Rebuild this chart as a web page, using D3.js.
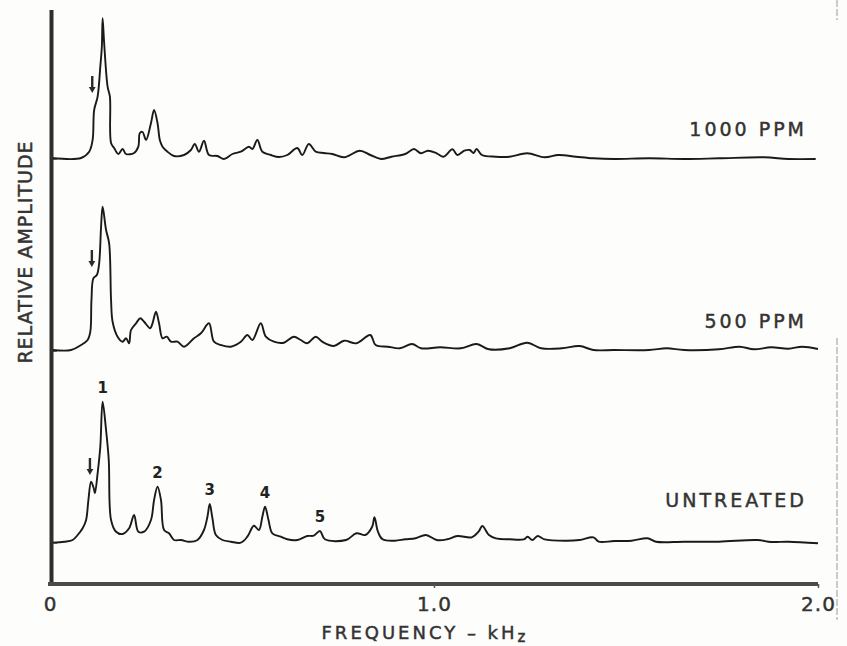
<!DOCTYPE html>
<html>
<head>
<meta charset="utf-8">
<script src="https://cdn.jsdelivr.net/npm/d3@7/dist/d3.min.js"></script>
<style>
  html, body { margin: 0; padding: 0; background: #fdfdfb; }
  svg { display: block; }
  text { font-family: "DejaVu Sans", "Liberation Sans", sans-serif; fill: #333; }
</style>
</head>
<body>
<svg id="chart" width="847" height="646"></svg>
<script>
// ---------------- DATA ----------------
const seriesNames = ["1000 PPM", "500 PPM", "UNTREATED"];

// Frequency in kHz, amplitude in relative (arbitrary) units
const freq1000 = [0.005,0.081,0.102,0.111,0.115,0.124,0.131,0.135,0.137,0.141,0.150,0.156,0.159,0.167,0.178,0.189,0.198,0.219,0.230,0.234,0.241,0.250,0.263,0.271,0.280,0.286,0.293,0.306,0.323,0.349,0.367,0.377,0.388,0.401,0.414,0.436,0.453,0.475,0.497,0.518,0.527,0.540,0.553,0.575,0.596,0.618,0.644,0.657,0.674,0.692,0.713,0.735,0.766,0.807,0.834,0.862,0.889,0.925,0.948,0.966,0.984,1.007,1.025,1.048,1.061,1.079,1.093,1.103,1.111,1.125,1.161,1.197,1.243,1.288,1.324,1.370,1.415,1.469,1.560,1.651,1.742,1.860,1.923,1.994];
const amp1000  = [1,1,7.3,19,49,62.3,92.3,112.3,140.7,116,72.3,62.3,16,11,5,10,5,6,12.3,26,27,19,36,49,36,19,12.3,7.3,3,4,9,15,7.3,18.3,4,3,0,5,7.3,12.3,10,19,7.3,4,2,4,11,4,15,7.3,6,5,1.7,8.3,4,0,2.3,5,10,5.7,8.3,5.7,2.3,9.7,4,8.3,9,6,10,4,2.3,2.3,5.7,1.7,4,2.3,0.7,0,0.7,0,0.7,1.7,0,0];

const freq500 = [0.007,0.055,0.081,0.098,0.105,0.108,0.113,0.122,0.128,0.133,0.137,0.146,0.154,0.159,0.163,0.176,0.189,0.198,0.206,0.211,0.224,0.235,0.245,0.261,0.267,0.276,0.284,0.293,0.304,0.315,0.332,0.349,0.375,0.393,0.414,0.427,0.445,0.471,0.497,0.514,0.527,0.549,0.562,0.583,0.609,0.635,0.653,0.670,0.692,0.709,0.739,0.766,0.798,0.834,0.848,0.880,0.911,0.943,0.966,1.016,1.070,1.111,1.143,1.197,1.243,1.279,1.333,1.379,1.415,1.469,1.560,1.606,1.651,1.742,1.796,1.833,1.878,1.923,1.959,2.000];
const amp500  = [1,1,6,11,19.3,51,72.7,76,87.7,124.3,144.3,121,107.7,51,29.3,14.3,9.3,12.7,7.7,21,27.7,32.7,29.3,22.7,27.7,39.3,27.7,12.7,14.3,9.3,9.3,4.3,12.7,17.7,27.7,9.3,6,4.3,9.3,16,11,27.7,14.3,9.3,8.3,14.3,11,7.7,14.3,9.3,5,10.3,7.7,16,6,4.3,2.7,7,2.7,3.7,2.7,7,1.7,2.7,8.3,2.7,2.7,5,1,1,1,2.7,1,1.7,4.3,1.7,3.7,2.3,4.3,2];

const freqUntreated = [0.007,0.037,0.059,0.072,0.085,0.094,0.100,0.107,0.114,0.117,0.124,0.131,0.137,0.146,0.153,0.159,0.172,0.189,0.206,0.219,0.230,0.245,0.263,0.271,0.280,0.289,0.297,0.310,0.323,0.341,0.362,0.384,0.401,0.410,0.416,0.423,0.432,0.449,0.471,0.497,0.514,0.531,0.544,0.553,0.560,0.569,0.579,0.601,0.618,0.644,0.670,0.687,0.703,0.716,0.771,0.798,0.821,0.839,0.845,0.854,0.866,0.898,0.925,0.952,0.979,1.007,1.034,1.061,1.098,1.116,1.126,1.143,1.161,1.197,1.234,1.244,1.256,1.270,1.288,1.343,1.379,1.415,1.429,1.469,1.515,1.556,1.578,1.651,1.742,1.842,1.878,1.923,2.000];
const ampUntreated  = [0.3,1.3,3,8,14.7,23,43,61.3,54.7,49.7,69.7,96.3,141.3,113,83,23,11.3,9,14.7,28,11.3,11.3,23,43,56.3,43,13,9.7,3,3,1.3,3,13,26.3,39,24.7,8,3,1.3,0.3,6.3,17.3,13,26.3,36.3,23,9.7,6.3,3.7,3,7,7.3,12,3.7,3,9.7,8,16.3,25.7,11.3,3.7,2.3,3.7,4.7,8,3,3.7,7,5.7,11.3,17,8,4.7,3.7,3.7,6.3,3,7,3.7,2.3,3,5.7,1.3,2,2.3,4.7,1.3,1.3,1.3,3,1,1.3,-0.3];

// Harmonic peak labels on the untreated trace
const peakLabels = ["1", "2", "3", "4", "5"];
const peakFreqs  = [0.137, 0.280, 0.416, 0.560, 0.703];
const peakAmps   = [141.3, 56.3, 39, 36.3, 12];

// Arrow markers (shoulder below the fundamental), per series
const arrowFreqs = [0.110, 0.109, 0.104];
const arrowAmps  = [66, 84, 68];

// Axis ticks
const xTickValues = [0, 1.0, 2.0];
const xTickLabels = ["0", "1.0", "2.0"];

// ---------------- CHART ----------------
const svg = d3.select("#chart");
const W = 847, H = 646;
svg.append("rect").attr("width", W).attr("height", H).attr("fill", "#fdfdfb");

const x = d3.scaleLinear().domain([0, 2.0]).range([50, 818]);
const yBase = d3.scalePoint().domain(seriesNames).range([159, 543]);
const yAmp = d3.scaleLinear().domain([0, 150]).range([0, -150]);

const series = [
  { name: seriesNames[0], f: freq1000, a: amp1000 },
  { name: seriesNames[1], f: freq500, a: amp500 },
  { name: seriesNames[2], f: freqUntreated, a: ampUntreated }
];

const line = d3.line()
  .x(d => x(d[0]))
  .y(d => yAmp(d[1]))
  .curve(d3.curveCatmullRom.alpha(0.5));

const labelStyle = sel => sel
  .style("fill", "#333")
  .style("stroke", "#333")
  .style("stroke-width", 0.45);

series.forEach((s, i) => {
  const g = svg.append("g").attr("transform", `translate(0,${yBase(s.name)})`);
  g.append("path")
    .datum(d3.zip(s.f, s.a))
    .attr("d", line)
    .attr("fill", "none")
    .attr("stroke", "#1a1a1a")
    .attr("stroke-width", 1.9)
    .attr("stroke-linejoin", "round");

  // series label
  g.append("text")
    .attr("x", 807)
    .attr("y", yAmp(i === 2 ? 36 : 23))
    .attr("text-anchor", "end")
    .attr("font-size", 19)
    .attr("letter-spacing", 3)
    .call(labelStyle)
    .text(s.name);

  // arrow
  const ax = x(arrowFreqs[i]);
  const ay = yAmp(arrowAmps[i]);
  g.append("line")
    .attr("x1", ax).attr("x2", ax)
    .attr("y1", ay - 17).attr("y2", ay - 4)
    .attr("stroke", "#2a2a2a").attr("stroke-width", 2.4);
  g.append("path")
    .attr("d", `M${ax - 3.4},${ay - 6} L${ax + 3.4},${ay - 6} L${ax},${ay} Z`)
    .attr("fill", "#2a2a2a");
});

// peak labels on untreated trace
const gU = svg.append("g").attr("transform", `translate(0,${yBase(seriesNames[2])})`);
gU.selectAll("text.peak")
  .data(peakLabels)
  .enter().append("text")
  .attr("class", "peak")
  .attr("x", (d, i) => x(peakFreqs[i]))
  .attr("y", (d, i) => yAmp(peakAmps[i]) - 9)
  .attr("text-anchor", "middle")
  .attr("font-size", 15)
  .attr("font-weight", "bold")
  .style("fill", "#222")
  .text(d => d);

// left axis ticks at baselines
const yAx = svg.append("g").attr("transform", "translate(52,0)")
  .call(d3.axisRight(yBase).tickSize(5).tickFormat(""));
yAx.select(".domain").remove();
yAx.selectAll(".tick line").attr("stroke", "#555").attr("stroke-width", 1);

// left axis line
svg.append("line")
  .attr("x1", 51.5).attr("x2", 51.5)
  .attr("y1", 10).attr("y2", 586)
  .attr("stroke", "#2e2e2e").attr("stroke-width", 4);

// bottom axis
const xAx = svg.append("g").attr("transform", "translate(0,584)")
  .call(d3.axisBottom(x).tickValues(xTickValues)
    .tickFormat((d, i) => xTickLabels[i]).tickSize(4).tickPadding(9).tickSizeOuter(0));
xAx.select(".domain")
  .attr("stroke", "#4a4a4a").attr("stroke-width", 4)
  .attr("d", `M${x(0) - 2},0H${x(2.0)}`);
xAx.selectAll(".tick line").attr("stroke", "#555").attr("stroke-width", 1.5);
xAx.selectAll(".tick text")
  .attr("font-size", 20)
  .attr("letter-spacing", 1)
  .style("font-family", "DejaVu Sans, sans-serif")
  .call(labelStyle);
xAx.selectAll(".tick").filter((d) => d === 0).select("line").remove();

// axis titles
const xt = svg.append("text")
  .attr("x", 425).attr("y", 639)
  .attr("text-anchor", "middle")
  .attr("font-size", 18)
  .attr("letter-spacing", 3)
  .call(labelStyle);
xt.append("tspan").text("FREQUENCY – kH");
xt.append("tspan").attr("font-size", 15).attr("dy", 3).text("z");

svg.append("text")
  .attr("transform", "translate(32,252) rotate(-90)")
  .attr("text-anchor", "middle")
  .attr("font-size", 19)
  .attr("letter-spacing", 1)
  .call(labelStyle)
  .text("RELATIVE AMPLITUDE");

// faint right-hand border of the scan
svg.append("line")
  .attr("x1", 837).attr("x2", 837).attr("y1", 0).attr("y2", 20)
  .attr("stroke", "#9a9a9a").attr("stroke-width", 1).attr("stroke-dasharray", "7,2");
svg.append("line")
  .attr("x1", 837).attr("x2", 837).attr("y1", 338).attr("y2", 620)
  .attr("stroke", "#9a9a9a").attr("stroke-width", 1).attr("stroke-dasharray", "7,2");
</script>
</body>
</html>
